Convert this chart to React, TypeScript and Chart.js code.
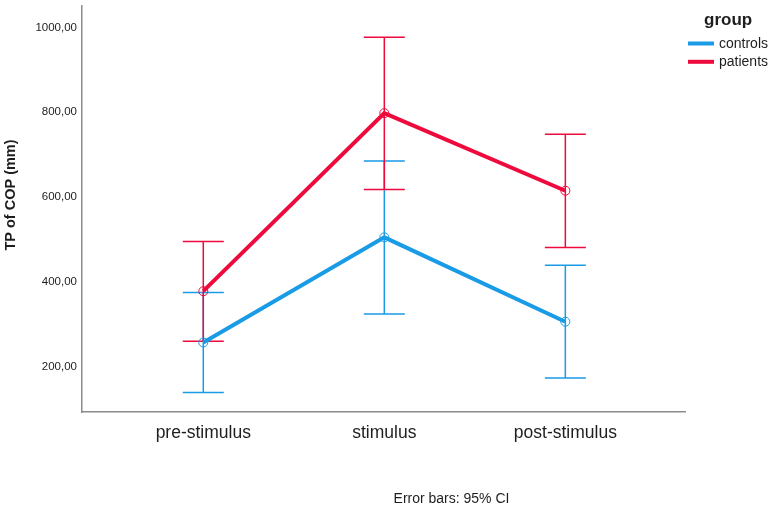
import React, { useEffect, useRef } from "react";
import { Chart, registerables } from "chart.js";

Chart.register(...registerables);

const categories = ["pre-stimulus", "stimulus", "post-stimulus"];
const controlsMean = [257, 505, 306];
const controlsLow = [139, 324, 173];
const controlsHigh = [375, 685, 439];
const patientsMean = [378, 798, 615];
const patientsLow = [260, 618, 481];
const patientsHigh = [495, 977, 748];
const yTicks = [200, 400, 600, 800, 1000];
const groupNames = ["controls", "patients"];
const legendTitle = "group";
const yTitle = "TP of COP (mm)";
const footnote = "Error bars: 95% CI";

const BLUE = "#1a9be6";
const RED = "#ee0a3c";
const FONT = "'Liberation Sans', Arial, Helvetica, sans-serif";
const TEXT = "#1e1e1e";

const errorBarPlugin = {
  id: "errorBars",
  beforeDatasetsDraw(chart: any) {
    const { ctx } = chart;
    const x = chart.scales.x;
    const y = chart.scales.y;
    chart.data.datasets.forEach((ds: any) => {
      ctx.save();
      ctx.strokeStyle = ds.borderColor;
      ctx.lineWidth = 1.5;
      ds.data.forEach((p: any) => {
        const px = x.getPixelForValue(p.x);
        const yl = y.getPixelForValue(p.lo);
        const yh = y.getPixelForValue(p.hi);
        const half = 20.5;
        ctx.beginPath();
        ctx.moveTo(px, yl);
        ctx.lineTo(px, yh);
        ctx.moveTo(px - half, yl);
        ctx.lineTo(px + half, yl);
        ctx.moveTo(px - half, yh);
        ctx.lineTo(px + half, yh);
        ctx.stroke();
      });
      ctx.restore();
    });
  },
};

const decorPlugin = {
  id: "decor",
  afterDraw(chart: any) {
    const { ctx } = chart;
    ctx.save();
    // y title
    ctx.fillStyle = TEXT;
    ctx.translate(10.5, 195);
    ctx.rotate(-Math.PI / 2);
    ctx.font = `bold 14.5px ${FONT}`;
    ctx.textAlign = "center";
    ctx.textBaseline = "middle";
    ctx.fillText(yTitle, 0, 0);
    ctx.restore();

    // legend
    ctx.save();
    ctx.fillStyle = TEXT;
    ctx.font = `bold 17px ${FONT}`;
    ctx.textAlign = "left";
    ctx.textBaseline = "middle";
    ctx.fillText(legendTitle, 704, 20);
    const colors = [BLUE, RED];
    groupNames.forEach((name, i) => {
      const ly = 43.5 + i * 18.3;
      ctx.strokeStyle = colors[i];
      ctx.lineWidth = 4;
      ctx.beginPath();
      ctx.moveTo(688, ly);
      ctx.lineTo(714, ly);
      ctx.stroke();
      ctx.font = `14px ${FONT}`;
      ctx.fillStyle = TEXT;
      ctx.fillText(name, 719, ly + 0.5);
    });

    // footnote
    ctx.font = `14px ${FONT}`;
    ctx.textAlign = "center";
    ctx.fillText(footnote, 451.5, 499);
    ctx.restore();
  },
};

function makeData(mean: number[], lo: number[], hi: number[]) {
  return mean.map((m, i) => ({ x: i, y: m, lo: lo[i], hi: hi[i] }));
}

export default function App() {
  const ref = useRef<HTMLCanvasElement | null>(null);

  useEffect(() => {
    if (!ref.current) return;
    const chart = new Chart(ref.current, {
      type: "line",
      data: {
        datasets: [
          {
            label: groupNames[0],
            data: makeData(controlsMean, controlsLow, controlsHigh),
            borderColor: BLUE,
            backgroundColor: "rgba(0,0,0,0)",
            borderWidth: 4,
            pointRadius: 4.5,
            pointBorderWidth: 1,
            pointBorderColor: BLUE,
            pointBackgroundColor: "rgba(0,0,0,0)",
            tension: 0,
            clip: false as any,
          },
          {
            label: groupNames[1],
            data: makeData(patientsMean, patientsLow, patientsHigh),
            borderColor: RED,
            backgroundColor: "rgba(0,0,0,0)",
            borderWidth: 4,
            pointRadius: 4.5,
            pointBorderWidth: 1,
            pointBorderColor: RED,
            pointBackgroundColor: "rgba(0,0,0,0)",
            tension: 0,
            clip: false as any,
          },
        ],
      },
      options: {
        responsive: false,
        animation: false,
        events: [],
        layout: { padding: { left: 0, right: 87, top: 2, bottom: 0 } },
        plugins: {
          legend: { display: false },
          tooltip: { enabled: false },
          title: { display: false },
        },
        scales: {
          x: {
            type: "linear",
            min: -0.67,
            max: 2.661,
            grid: { display: false, drawTicks: false },
            border: { display: true, color: "#8c8c8c", width: 1.5 },
            afterBuildTicks: (scale: any) => {
              scale.ticks = categories.map((_, i) => ({ value: i }));
            },
            afterFit: (scale: any) => {
              scale.height = 96;
              scale.paddingLeft = 0;
              scale.paddingRight = 0;
              scale.paddingTop = 0;
              scale.paddingBottom = 0;
            },
            ticks: {
              padding: 11,
              maxRotation: 0,
              autoSkip: false,
              color: TEXT,
              font: { family: FONT, size: 17.5 },
              callback: (v: any) => categories[Math.round(Number(v))] ?? "",
            },
          },
          y: {
            type: "linear",
            min: 93,
            max: 1052,
            grid: { display: false, drawTicks: false },
            border: { display: true, color: "#8c8c8c", width: 1.5 },
            afterBuildTicks: (scale: any) => {
              scale.ticks = yTicks.map((v) => ({ value: v }));
            },
            afterFit: (scale: any) => {
              scale.width = 82;
              scale.paddingLeft = 0;
              scale.paddingRight = 0;
              scale.paddingTop = 0;
              scale.paddingBottom = 0;
            },
            ticks: {
              padding: 5,
              color: TEXT,
              font: { family: FONT, size: 11.5 },
              callback: (v: any) => Number(v).toFixed(2).replace(".", ","),
            },
          },
        },
      },
      plugins: [errorBarPlugin, decorPlugin],
    } as any);
    return () => chart.destroy();
  }, []);

  return (
    <div style={{ position: "absolute", left: 0, top: 0, width: 772, height: 508, background: "#fff" }}>
      <canvas ref={ref} width={772} height={508} style={{ display: "block", width: 772, height: 508 }} />
    </div>
  );
}
